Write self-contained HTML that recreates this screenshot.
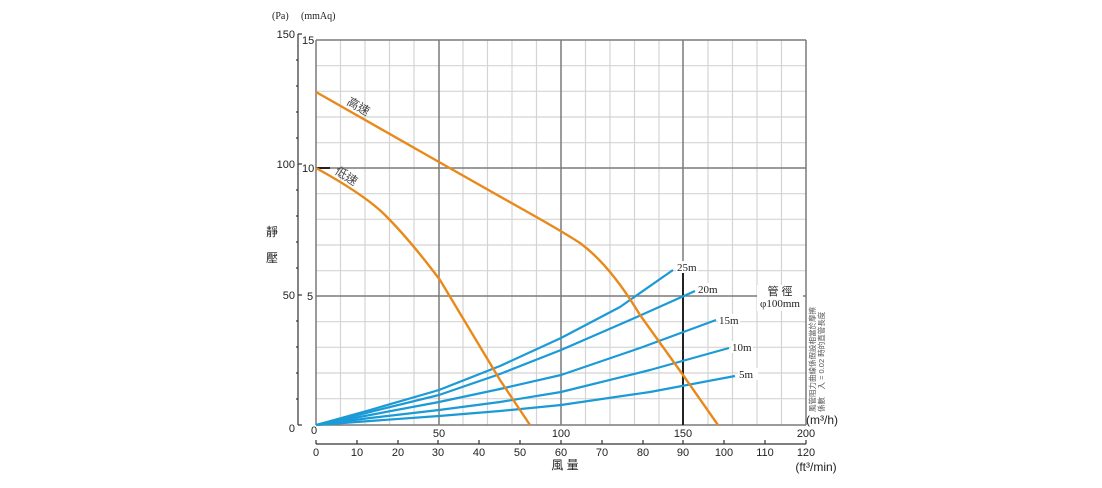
<!DOCTYPE html>
<html><head><meta charset="utf-8"><style>
html,body{margin:0;padding:0;background:#fff;}
svg{display:block;font-family:"Liberation Sans","Noto Sans CJK TC",sans-serif;}
</style></head><body>
<svg width="1102" height="488" viewBox="0 0 1102 488" xmlns="http://www.w3.org/2000/svg">
<g stroke="#d4d4d4" stroke-width="1.2">
<line x1="340.5" y1="40" x2="340.5" y2="425"/><line x1="365" y1="40" x2="365" y2="425"/><line x1="389.5" y1="40" x2="389.5" y2="425"/><line x1="414" y1="40" x2="414" y2="425"/>
<line x1="463" y1="40" x2="463" y2="425"/><line x1="487.5" y1="40" x2="487.5" y2="425"/><line x1="512" y1="40" x2="512" y2="425"/><line x1="536.5" y1="40" x2="536.5" y2="425"/>
<line x1="585.5" y1="40" x2="585.5" y2="425"/><line x1="610" y1="40" x2="610" y2="425"/><line x1="634.5" y1="40" x2="634.5" y2="425"/><line x1="659" y1="40" x2="659" y2="425"/>
<line x1="708" y1="40" x2="708" y2="425"/><line x1="732.5" y1="40" x2="732.5" y2="425"/><line x1="757" y1="40" x2="757" y2="425"/><line x1="781.5" y1="40" x2="781.5" y2="425"/>
<line x1="316" y1="65.7" x2="806" y2="65.7"/><line x1="316" y1="91.3" x2="806" y2="91.3"/><line x1="316" y1="117" x2="806" y2="117"/><line x1="316" y1="142.7" x2="806" y2="142.7"/>
<line x1="316" y1="193.7" x2="806" y2="193.7"/><line x1="316" y1="219.3" x2="806" y2="219.3"/><line x1="316" y1="245" x2="806" y2="245"/><line x1="316" y1="270.7" x2="806" y2="270.7"/>
<line x1="316" y1="321.7" x2="806" y2="321.7"/><line x1="316" y1="347.3" x2="806" y2="347.3"/><line x1="316" y1="373" x2="806" y2="373"/><line x1="316" y1="398.7" x2="806" y2="398.7"/>
</g>
<g stroke="#7a7a7a" stroke-width="1.5">
<line x1="439" y1="40" x2="439" y2="425"/><line x1="561" y1="40" x2="561" y2="425"/><line x1="806" y1="40" x2="806" y2="425"/>
<line x1="316" y1="40" x2="806" y2="40"/><line x1="316" y1="168" x2="806" y2="168"/><line x1="316" y1="296" x2="806" y2="296"/>
<line x1="316" y1="40" x2="316" y2="425"/><line x1="316" y1="425" x2="806" y2="425"/>
</g>
<line x1="683" y1="40" x2="683" y2="270" stroke="#7a7a7a" stroke-width="1.5"/>
<line x1="683" y1="270" x2="683" y2="425" stroke="#222" stroke-width="2"/>
<line x1="316" y1="168" x2="330" y2="168" stroke="#222" stroke-width="2"/>
<g stroke="#333" stroke-width="1.2">
<line x1="298" y1="34" x2="298" y2="425"/>
<line x1="298" y1="34" x2="302" y2="34"/><line x1="296" y1="60" x2="298" y2="60"/><line x1="296" y1="86" x2="298" y2="86"/><line x1="296" y1="112" x2="298" y2="112"/><line x1="296" y1="138" x2="298" y2="138"/><line x1="298" y1="164" x2="302" y2="164"/>
<line x1="296" y1="190" x2="298" y2="190"/><line x1="296" y1="216" x2="298" y2="216"/><line x1="296" y1="242" x2="298" y2="242"/><line x1="296" y1="268" x2="298" y2="268"/><line x1="298" y1="295" x2="302" y2="295"/>
<line x1="296" y1="321" x2="298" y2="321"/><line x1="296" y1="347" x2="298" y2="347"/><line x1="296" y1="373" x2="298" y2="373"/><line x1="296" y1="399" x2="298" y2="399"/><line x1="298" y1="425" x2="302" y2="425"/>
</g>
<g font-size="11" fill="#222">
<text x="272" y="19" font-family="Liberation Serif,serif" font-size="10">(Pa)</text>
<text x="301" y="19" font-family="Liberation Serif,serif" font-size="10">(mmAq)</text>
<text x="295" y="38" text-anchor="end">150</text><text x="295" y="168" text-anchor="end">100</text><text x="295" y="299" text-anchor="end">50</text><text x="295" y="432" text-anchor="end">0</text>
<text x="302" y="44">15</text><text x="302" y="172">10</text><text x="307" y="300">5</text><text x="311" y="434">0</text>
<text x="439" y="437" text-anchor="middle">50</text><text x="561" y="437" text-anchor="middle">100</text><text x="683" y="437" text-anchor="middle">150</text><text x="806" y="437" text-anchor="middle">200</text>
<text x="806" y="424" font-size="12">(m³/h)</text>
</g>
<g stroke="#333" stroke-width="1.2">
<line x1="316" y1="444" x2="806" y2="444"/>
<line x1="316" y1="444" x2="316" y2="440"/><line x1="357" y1="444" x2="357" y2="440"/><line x1="398" y1="444" x2="398" y2="440"/><line x1="438" y1="444" x2="438" y2="440"/><line x1="479" y1="444" x2="479" y2="440"/><line x1="520" y1="444" x2="520" y2="440"/><line x1="561" y1="444" x2="561" y2="440"/><line x1="602" y1="444" x2="602" y2="440"/><line x1="643" y1="444" x2="643" y2="440"/><line x1="683" y1="444" x2="683" y2="440"/><line x1="724" y1="444" x2="724" y2="440"/><line x1="765" y1="444" x2="765" y2="440"/><line x1="806" y1="444" x2="806" y2="440"/>
</g>
<g font-size="11" fill="#222" text-anchor="middle">
<text x="316" y="456">0</text><text x="357" y="456">10</text><text x="398" y="456">20</text><text x="438" y="456">30</text><text x="479" y="456">40</text><text x="520" y="456">50</text><text x="561" y="456">60</text><text x="602" y="456">70</text><text x="643" y="456">80</text><text x="683" y="456">90</text><text x="724" y="456">100</text><text x="765" y="456">110</text><text x="806" y="456">120</text>
<text x="816" y="471" font-size="12">(ft³/min)</text>
<text x="565" y="469" font-size="12">風 量</text>
</g>
<text x="266" y="236" font-size="12" fill="#222">靜</text>
<text x="266" y="262" font-size="12" fill="#222">壓</text>
<g stroke="#1a9ad6" stroke-width="2.2" fill="none" stroke-linejoin="round">
<polyline points="316,425 370,410 439,390 500,366 561,338 620,307 673,270"/>
<polyline points="316,425 370,412 439,395 500,374 561,350 630,320 695,291"/>
<polyline points="316,425 370,415 439,402 500,389 561,375 640,348 716,320"/>
<polyline points="316,425 370,418 439,410 500,402 561,392 650,370 729,348"/>
<polyline points="316,425 370,421 439,416 500,411 561,405 650,392 735,376"/>
</g>
<g stroke="#e8891a" stroke-width="2.4" fill="none">
<path d="M316,92 L439,162 L515,205 Q560,230 580,243 Q610,265 640,315 L683,375 L718,425"/>
<path d="M316,168 Q365,195 385,215 Q410,240 440,280 Q470,330 500,380 L530,425"/>
</g>
<g font-family="Liberation Serif,serif" font-size="11" fill="#222">
<rect x="676" y="261" width="22" height="12" fill="#fff"/><text x="677" y="271">25m</text>
<rect x="697" y="283" width="22" height="12" fill="#fff"/><text x="698" y="293">20m</text>
<rect x="718" y="314" width="22" height="12" fill="#fff"/><text x="719" y="324">15m</text>
<rect x="731" y="341" width="22" height="12" fill="#fff"/><text x="732" y="351">10m</text>
<rect x="738" y="368" width="20" height="12" fill="#fff"/><text x="739" y="378">5m</text>
<rect x="757" y="285" width="46" height="26" fill="#fff"/>
<text x="780" y="295" text-anchor="middle" font-family="Liberation Sans,Noto Sans CJK TC,sans-serif">管 徑</text>
<text x="780" y="307" text-anchor="middle">φ100mm</text>
</g>
<g font-size="12" fill="#444">
<text transform="translate(346,104) rotate(30)">高速</text>
<text transform="translate(334,173) rotate(33)">低速</text>
</g>
<g font-size="7.5" fill="#555">
<text transform="translate(815,412) rotate(-90)">風管阻力曲線係假設相當於摩擦</text>
<text transform="translate(824,412) rotate(-90)">係數　入 = 0.02 時的直管長度</text>
</g>
</svg>
</body></html>
